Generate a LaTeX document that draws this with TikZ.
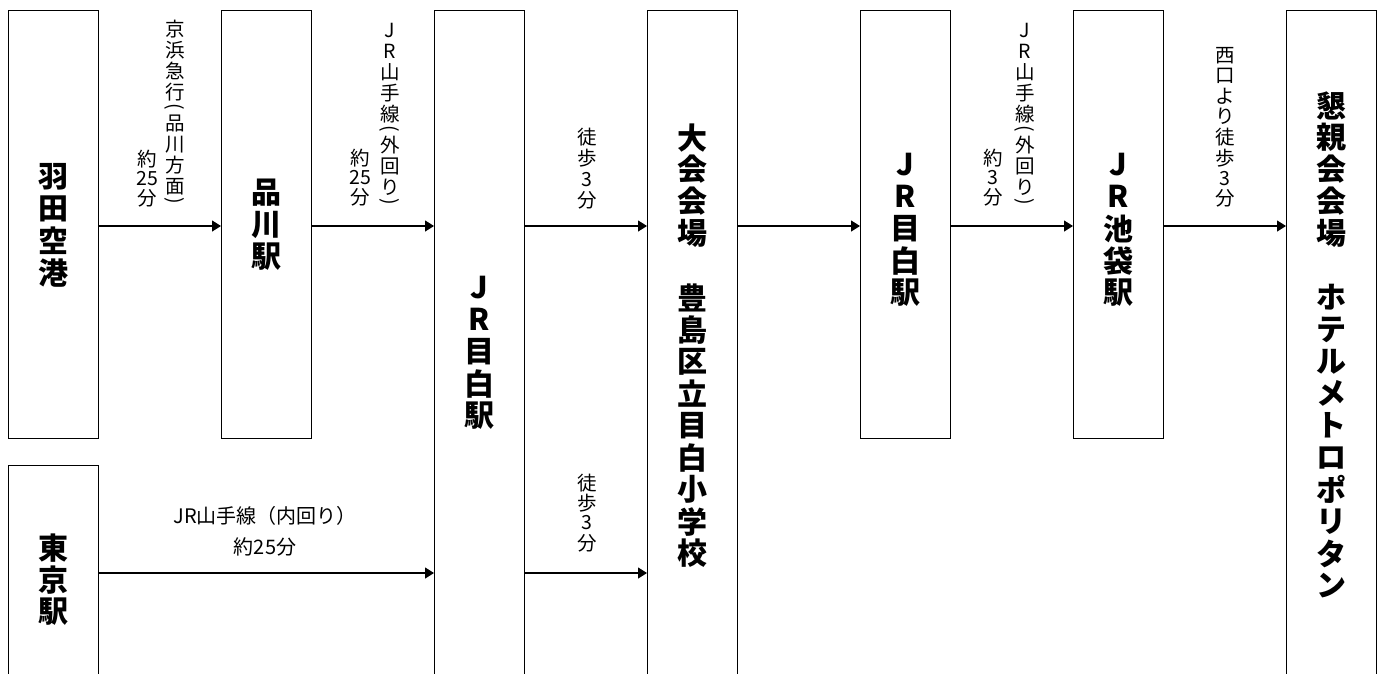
\documentclass[tikz,border=0pt]{standalone}
\usepackage{fontspec}
\usepackage{graphicx}
\usetikzlibrary{arrows.meta}
\newfontfamily\jp{Noto Sans CJK JP}
\newlength\cellh
\newcommand\vch[1]{\hbox to 1.2em{\hss\vbox to\cellh{\vss\hbox{#1}\vss}\hss}}
\newcommand\vpc[1]{\hbox to 1.2em{\hss\vbox to 0.48\cellh{\vss\hbox{#1}\vss}\hss}}
\newcommand\vtext[2]{\setlength\cellh{#1}\vbox{\offinterlineskip #2}}
\newcommand\vlp{\vpc{\rotatebox[origin=c]{-90}{(}}}
\newcommand\vrp{\vpc{\rotatebox[origin=c]{-90}{)}}}
\tikzset{
  box/.style={draw, line width=1.2pt, minimum width=90pt, inner sep=0pt, anchor=north west,
    font=\jp\bfseries\fontsize{30}{32}\selectfont},
  lab/.style={inner sep=0pt, font=\jp\fontsize{19.5}{21}\selectfont},
  arr/.style={line width=1.2pt, -{Triangle[length=9pt,width=11pt]}}
}
\begin{document}
\begin{tikzpicture}[x=1pt,y=-1pt]
\useasboundingbox (0,0) rectangle (1384,673);
\coordinate (row1) at (0,226);
\coordinate (row2) at (0,573);
% boxes
\node[box, minimum height=428pt] (haneda) at (8,10)
  {\vtext{32pt}{\vch{羽}\vch{田}\vch{空}\vch{港}}};
\node[box, minimum height=228pt] (tokyo) at (8,465)
  {\vtext{32pt}{\vch{東}\vch{京}\vch{駅}}};
\node[box, minimum height=428pt] (shina) at (221,10)
  {\vtext{32pt}{\vch{品}\vch{川}\vch{駅}}};
\node[box, minimum height=682pt] (mejiro) at (434,10)
  {\vtext{32pt}{\vch{J}\vch{R}\vch{目}\vch{白}\vch{駅}}};
\node[box, minimum height=670pt] (venue) at (647,10)
  {\vtext{32pt}{\vch{大}\vch{会}\vch{会}\vch{場}\vch{}\vch{豊}\vch{島}\vch{区}\vch{立}\vch{目}\vch{白}\vch{小}\vch{学}\vch{校}}};
\node[box, minimum height=428pt] (mejiro2) at (860,10)
  {\vtext{32pt}{\kern8pt\vch{J}\vch{R}\vch{目}\vch{白}\vch{駅}}};
\node[box, minimum height=428pt] (ikebukuro) at (1073,10)
  {\vtext{32pt}{\kern8pt\vch{J}\vch{R}\vch{池}\vch{袋}\vch{駅}}};
\node[box, minimum height=670pt] (hotel) at (1286,10)
  {\vtext{32pt}{\vch{懇}\vch{親}\vch{会}\vch{会}\vch{場}\vch{}\vch{ホ}\vch{テ}\vch{ル}\vch{メ}\vch{ト}\vch{ロ}\vch{ポ}\vch{リ}\vch{タ}\vch{ン}}};
% arrows
\draw[arr] (haneda.east |- row1) -- (shina.west |- row1);
\draw[arr] (shina.east |- row1) -- (mejiro.west |- row1);
\draw[arr] (mejiro.east |- row1) -- (venue.west |- row1);
\draw[arr] (venue.east |- row1) -- (mejiro2.west |- row1);
\draw[arr] (mejiro2.east |- row1) -- (ikebukuro.west |- row1);
\draw[arr] (ikebukuro.east |- row1) -- (hotel.west |- row1);
\draw[arr] (tokyo.east |- row2) -- (mejiro.west |- row2);
\draw[arr] (mejiro.east |- row2) -- (venue.west |- row2);
% labels
\node[lab] (l1a) at (175,113) {\vtext{21pt}{\vch{京}\vch{浜}\vch{急}\vch{行}\vlp\vch{品}\vch{川}\vch{方}\vch{面}\vrp}};
\node[lab] (l1b) at (147,179) {\vtext{19.5pt}{\vch{約}\vch{25}\vch{分}}};
\node[lab] (l2a) at (390,114) {\vtext{21pt}{\vch{J}\vch{R}\vch{山}\vch{手}\vch{線}\vlp\vch{外}\vch{回}\vch{り}\vrp}};
\node[lab] (l2b) at (360,178) {\vtext{19.5pt}{\vch{約}\vch{25}\vch{分}}};
\node[lab] (l3) at (587,169) {\vtext{21pt}{\vch{徒}\vch{歩}\vch{3}\vch{分}}};
\node[lab] (l4) at (587,513) {\vtext{20pt}{\vch{徒}\vch{歩}\vch{3}\vch{分}}};
\node[lab] (l5a) at (1025,114) {\vtext{21pt}{\vch{J}\vch{R}\vch{山}\vch{手}\vch{線}\vlp\vch{外}\vch{回}\vch{り}\vrp}};
\node[lab] (l5b) at (993,178) {\vtext{19.5pt}{\vch{約}\vch{3}\vch{分}}};
\node[lab] (l6) at (1225,127) {\vtext{20.5pt}{\vch{西}\vch{口}\vch{よ}\vch{り}\vch{徒}\vch{歩}\vch{3}\vch{分}}};
\node[lab, font=\jp\fontsize{20}{22}\selectfont, align=center] (l7) at (265,531) {JR山手線（内回り）\\[9pt]約25分};
\end{tikzpicture}
\end{document}
